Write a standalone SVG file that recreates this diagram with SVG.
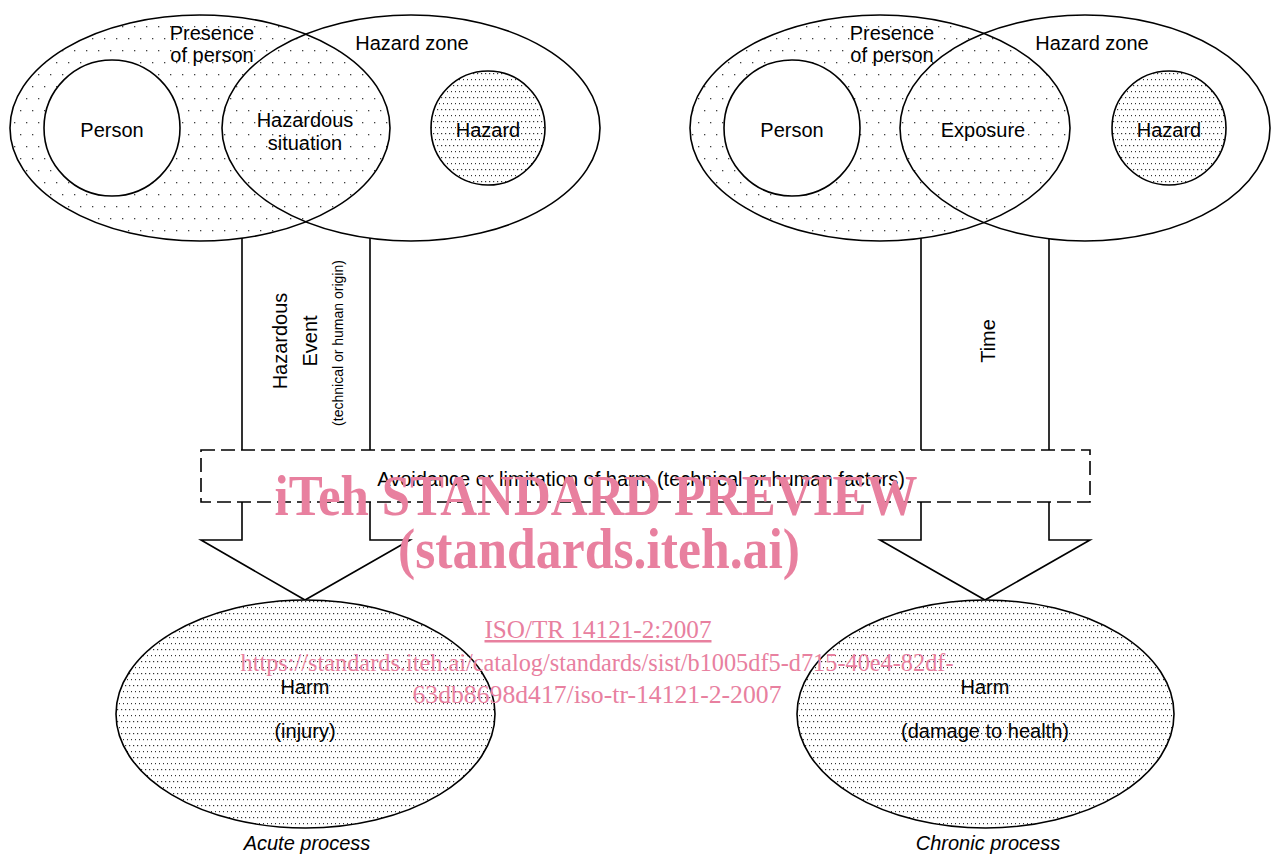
<svg xmlns="http://www.w3.org/2000/svg" width="1272" height="855" viewBox="0 0 1272 855">
<defs>
<pattern id="sparse" width="12" height="24" patternUnits="userSpaceOnUse">
<rect x="2" y="2" width="1.3" height="1.3" fill="#000" opacity="0.75"/>
<rect x="8" y="14" width="1.3" height="1.3" fill="#000" opacity="0.75"/>
</pattern>
<pattern id="dense" width="4" height="12" patternUnits="userSpaceOnUse">
<rect x="1" y="1" width="1.2" height="1.2" fill="#000" opacity="0.8"/>
<rect x="3" y="7" width="1.2" height="1.2" fill="#000" opacity="0.8"/>
</pattern>
<style>
.ol{fill:none;stroke:#000;stroke-width:1.6}
.wf{fill:#fff;stroke:#000;stroke-width:1.6}
.t{font-family:"Liberation Sans",Arial,sans-serif;font-size:20px;fill:#000;text-anchor:middle}
.s{font-family:"Liberation Sans",Arial,sans-serif;font-size:14px;fill:#000;text-anchor:middle}
.it{font-style:italic}
.wm{font-family:"Liberation Serif","Times New Roman",serif;fill:#e8809f;text-anchor:middle}
</style>
</defs>
<rect width="1272" height="855" fill="#fff"/>

<g id="connectors">
<path id="arrow-acute" class="ol" d="M242,238 V540 H201 L305,600 L410,540 H370 V238"/>
<path id="arrow-chronic" class="ol" d="M921,238 V540 H880 L985,600 L1090,540 H1049 V238"/>
<rect id="avoidance" x="201" y="450" width="889" height="52" fill="#fff" stroke="#000" stroke-width="1.6" stroke-dasharray="14,6"/>
<text class="t" x="641" y="486">Avoidance or limitation of harm (technical or human factors)</text>
<text class="t" transform="translate(287,341) rotate(-90)">Hazardous</text>
<text class="t" transform="translate(317,341) rotate(-90)">Event</text>
<text class="s" transform="translate(343,343) rotate(-90)">(technical or human origin)</text>
<text class="t" transform="translate(995,341) rotate(-90)">Time</text>
</g>

<g id="left-venn">
<ellipse id="hazard-zone-l" cx="411" cy="128" rx="189" ry="113" fill="#fff"/>
<ellipse id="presence-l" cx="200" cy="128" rx="190" ry="113" fill="url(#sparse)"/>
<ellipse class="ol" cx="411" cy="128" rx="189" ry="113"/>
<ellipse class="ol" cx="200" cy="128" rx="190" ry="113"/>
<circle id="person-l" class="wf" cx="112" cy="128" r="68"/>
<circle id="hazard-l" cx="488" cy="128" r="57" fill="#fff"/>
<circle cx="488" cy="128" r="57" fill="url(#dense)" stroke="#000" stroke-width="1.6"/>
<text class="t" x="212" y="40">Presence</text>
<text class="t" x="212" y="62">of person</text>
<text class="t" x="412" y="50">Hazard zone</text>
<text class="t" x="112" y="137">Person</text>
<text class="t" x="305" y="127">Hazardous</text>
<text class="t" x="305" y="150">situation</text>
<text class="t" x="488" y="137">Hazard</text>
</g>

<g id="right-venn">
<ellipse id="hazard-zone-r" cx="1085" cy="128" rx="185" ry="113" fill="#fff"/>
<ellipse id="presence-r" cx="880" cy="128" rx="190" ry="113" fill="url(#sparse)"/>
<ellipse class="ol" cx="1085" cy="128" rx="185" ry="113"/>
<ellipse class="ol" cx="880" cy="128" rx="190" ry="113"/>
<circle id="person-r" class="wf" cx="792" cy="128" r="68"/>
<circle id="hazard-r" cx="1169" cy="128" r="57" fill="#fff"/>
<circle cx="1169" cy="128" r="57" fill="url(#dense)" stroke="#000" stroke-width="1.6"/>
<text class="t" x="892" y="40">Presence</text>
<text class="t" x="892" y="62">of person</text>
<text class="t" x="1092" y="50">Hazard zone</text>
<text class="t" x="792" y="137">Person</text>
<text class="t" x="983" y="137">Exposure</text>
<text class="t" x="1169" y="137">Hazard</text>
</g>

<g id="harm-acute">
<ellipse cx="305.5" cy="714" rx="189.5" ry="114" fill="#fff"/>
<ellipse cx="305.5" cy="714" rx="189.5" ry="114" fill="url(#dense)" stroke="#000" stroke-width="1.6"/>
<text class="t" x="305" y="694">Harm</text>
<text class="t" x="305" y="738">(injury)</text>
<text class="t it" x="307" y="850">Acute process</text>
</g>

<g id="harm-chronic">
<ellipse cx="985.5" cy="714" rx="188.5" ry="114" fill="#fff"/>
<ellipse cx="985.5" cy="714" rx="188.5" ry="114" fill="url(#dense)" stroke="#000" stroke-width="1.6"/>
<text class="t" x="985" y="694">Harm</text>
<text class="t" x="985" y="738">(damage to health)</text>
<text class="t it" x="988" y="850">Chronic process</text>
</g>

<g id="watermark">
<text class="wm" x="596" y="515" font-size="58" font-weight="bold" textLength="643" lengthAdjust="spacingAndGlyphs">iTeh STANDARD PREVIEW</text>
<text class="wm" x="599" y="568" font-size="58" font-weight="bold" textLength="402" lengthAdjust="spacingAndGlyphs">(standards.iteh.ai)</text>
<text class="wm" x="598" y="638" font-size="25" text-decoration="underline" textLength="227" lengthAdjust="spacingAndGlyphs">ISO/TR 14121-2:2007</text>
<text class="wm" x="597" y="671" font-size="25" textLength="713" lengthAdjust="spacingAndGlyphs">https://standards.iteh.ai/catalog/standards/sist/b1005df5-d715-40e4-82df-</text>
<text class="wm" x="597" y="703" font-size="25" textLength="369" lengthAdjust="spacingAndGlyphs">63db8698d417/iso-tr-14121-2-2007</text>
</g>
</svg>
